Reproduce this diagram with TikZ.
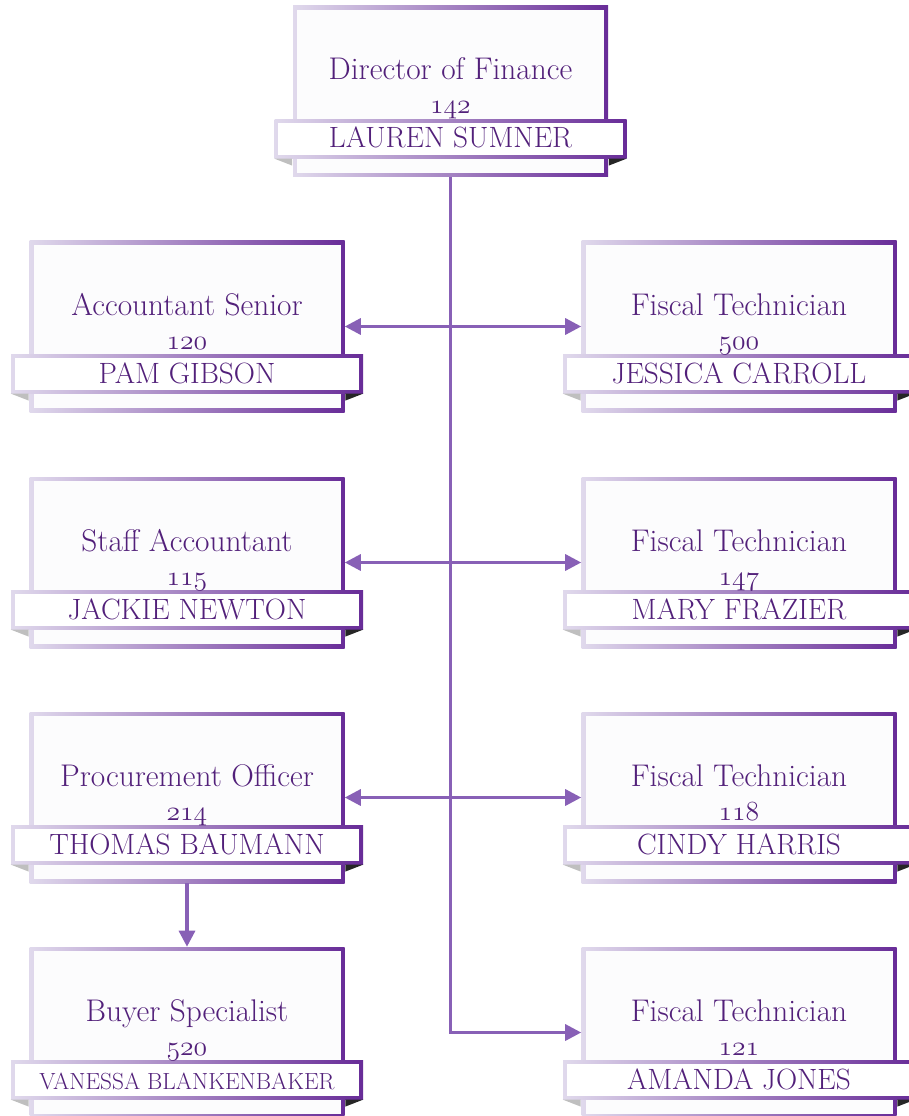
\documentclass[tikz,border=0pt]{standalone}
\usetikzlibrary{arrows.meta}
\definecolor{lilac}{RGB}{224,217,236}
\definecolor{plum}{RGB}{104,44,152}
\definecolor{inkpurple}{RGB}{82,32,122}
\definecolor{linepurple}{RGB}{136,96,182}
\definecolor{paper}{RGB}{252,252,253}
\begin{document}
\begin{tikzpicture}[x=0.75pt,y=-0.75pt,
  card/.style={minimum width=236.25pt,minimum height=128.25pt,inner sep=0pt,left color=lilac,right color=plum},
  cardin/.style={minimum width=230.25pt,minimum height=122.25pt,inner sep=0pt,fill=paper},
  band/.style={minimum width=264pt,minimum height=29pt,inner sep=0pt,left color=lilac,right color=plum},
  bandin/.style={minimum width=258.5pt,minimum height=23.5pt,inner sep=0pt,fill=white},
  txt/.style={text=inkpurple,font=\fontsize{23.5}{26}\selectfont,inner sep=0pt,anchor=base},
  link/.style={linepurple,line width=2.4pt},
  tip/.style={-{Triangle[length=12pt,width=12pt]}}]
\useasboundingbox (0,0) rectangle (909,1116);
\clip (0,0) rectangle (909,1116);
% one card per person: name/centre x/top y/title/number/name/name size
\foreach \id/\cx/\top/\title/\num/\who/\fs in {
  finance/450.5/6/Director of Finance/142/LAUREN SUMNER/22,
  gibson/187/241/Accountant Senior/120/PAM GIBSON/22,
  carroll/739/241/Fiscal Technician/500/JESSICA CARROLL/22,
  newton/187/477/Staff Accountant/115/JACKIE NEWTON/22,
  frazier/739/477/Fiscal Technician/147/MARY FRAZIER/22,
  baumann/187/712/Procurement Officer/214/THOMAS BAUMANN/22,
  harris/739/712/Fiscal Technician/118/CINDY HARRIS/22,
  blankenbaker/187/947/Buyer Specialist/520/VANESSA BLANKENBAKER/17.5,
  jones/739/947/Fiscal Technician/121/AMANDA JONES/22}{
  \node[card] (\id) at (\cx,{\top+85.5}) {};
  \node[cardin] at (\id) {};
  \node[band] (\id-band) at (\cx,{\top+133}) {};
  \node[bandin] at (\id-band) {};
  \fill[black!25] (\id-band.south west) -- ++(18,0) -- ++(0,7) -- cycle;
  \fill[black!85] (\id-band.south east) -- ++(-18,0) -- ++(0,7) -- cycle;
  \node[txt] (\id-title) at (\cx,{\top+74}) {\title};
  \node[txt,font=\fontsize{21}{24}\selectfont] (\id-num) at (\cx,{\top+108}) {$\mathnormal{\num}$};
  \node[txt,font=\fontsize{\fs}{24}\selectfont] (\id-name) at (\cx,{\top+142}) {\who};
}
\draw[link,tip] (finance.south) |- (jones.west);
\draw[link,{Triangle[length=12pt,width=12pt]}-{Triangle[length=12pt,width=12pt]}] (gibson.east) -- (carroll.west);
\draw[link,{Triangle[length=12pt,width=12pt]}-{Triangle[length=12pt,width=12pt]}] (newton.east) -- (frazier.west);
\draw[link,{Triangle[length=12pt,width=12pt]}-{Triangle[length=12pt,width=12pt]}] (baumann.east) -- (harris.west);
\draw[link,tip] (baumann.south) -- (blankenbaker.north);
\end{tikzpicture}
\end{document}
